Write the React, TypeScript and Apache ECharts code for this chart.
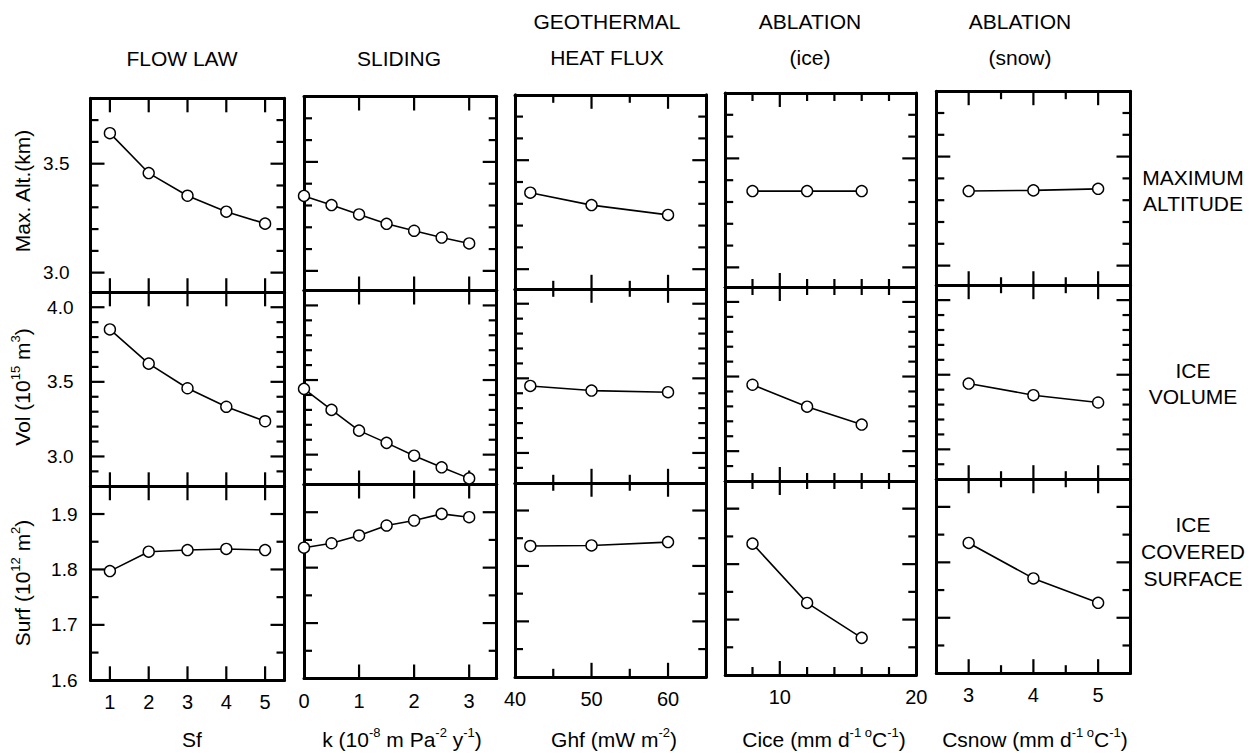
import React, { useEffect, useRef } from "react";
import * as echarts from "echarts";

const FONT = "'Liberation Sans', Arial, Helvetica, sans-serif";

// ---- x values (one list per column) ----
const sfValues = [1, 2, 3, 4, 5];
const kValues = [0, 0.5, 1, 1.5, 2, 2.5, 3];
const ghfValues = [42, 50, 60];
const ciceValues = [8, 12, 16];
const csnowValues = [3, 4, 5];

// ---- Maximum altitude (km) ----
const altSf = [3.64, 3.457, 3.353, 3.28, 3.225];
const altK = [3.344, 3.302, 3.259, 3.216, 3.184, 3.153, 3.126];
const altGhf = [3.351, 3.294, 3.249];
const altCice = [3.35, 3.35, 3.35];
const altCsnow = [3.342, 3.345, 3.352];

// ---- Ice volume (10^15 m^3) ----
const volSf = [3.851, 3.622, 3.457, 3.333, 3.236];
const volK = [3.441, 3.3, 3.161, 3.079, 2.993, 2.915, 2.841];
const volGhf = [3.449, 3.418, 3.407];
const volCice = [3.445, 3.298, 3.178];
const volCsnow = [3.441, 3.363, 3.314];

// ---- Ice covered surface (10^12 m^2) ----
const surfSf = [1.797, 1.832, 1.835, 1.837, 1.835];
const surfK = [1.836, 1.844, 1.858, 1.876, 1.885, 1.897, 1.891];
const surfGhf = [1.836, 1.837, 1.843];
const surfCice = [1.837, 1.73, 1.667];
const surfCsnow = [1.835, 1.771, 1.727];

// ---- axes: ranges, ticks, tick labels ----
const xRanges = [[0.5, 5.5], [0, 3.5], [40, 65], [6, 20], [2.5, 5.5]];
const xMajorTicks = [[1, 2, 3, 4, 5], [1, 2, 3], [50, 60], [10], [3, 4, 5]];
const xMinorTicks = [[], [], [45, 55], [8, 12, 14, 16, 18], [3.5, 4.5]];
const xTickLabels = [[1, 2, 3, 4, 5], [0, 1, 2, 3], [40, 50, 60], [10, 20], [3, 4, 5]];

const yRanges = [[2.91, 3.8], [2.8, 4.1], [1.6, 1.95]];
const yMajorTicks = [[3.0, 3.5], [3.0, 3.5, 4.0], [1.7, 1.8, 1.9]];
const yMinorTicks = [
  [3.1, 3.2, 3.3, 3.4, 3.6, 3.7],
  [2.9, 3.1, 3.2, 3.3, 3.4, 3.6, 3.7, 3.8, 3.9],
  [1.65, 1.75, 1.85],
];
const yTickLabels = [[3.0, 3.5], [3.0, 3.5, 4.0], [1.6, 1.7, 1.8, 1.9]];

const xValues = [sfValues, kValues, ghfValues, ciceValues, csnowValues];
const yValues = [
  [altSf, altK, altGhf, altCice, altCsnow],
  [volSf, volK, volGhf, volCice, volCsnow],
  [surfSf, surfK, surfGhf, surfCice, surfCsnow],
];

const columnTitles = [["FLOW LAW"], ["SLIDING"], ["GEOTHERMAL", "HEAT FLUX"], ["ABLATION", "(ice)"], ["ABLATION", "(snow)"]];
const rowTitles = [["MAXIMUM", "ALTITUDE"], ["ICE", "VOLUME"], ["ICE", "COVERED", "SURFACE"]];
const yNames = ["{n|Max. Alt.(km)}", "{n|Vol (10}{s|15}{n| m}{s|3}{n|)}", "{n|Surf (10}{s|12}{n| m}{s|2}{n|)}"];
const xNames = [
  "{n|Sf}",
  "{n|k (10}{s|-8}{n| m Pa}{s|-2}{n| y}{s|-1}{n|)}",
  "{n|Ghf (mW m}{s|-2}{n|)}",
  "{n|Cice (mm d}{s|-1 o}{n|C}{s|-1}{n|)}",
  "{n|Csnow (mm d}{s|-1 o}{n|C}{s|-1}{n|)}",
];

// ---- layout ----
const colLeft = [90.5, 304, 515, 725.2, 936.3];
const colRight = [284.5, 496.7, 706.3, 916.3, 1130.5];
const colTop = [98.3, 96.5, 94.8, 93, 91.2];
const rowH = 194;
const yLabelMargin = [21, 17, 13];
const columnTitleX = [182, 399, 607, 810, 1020];
const xNameX = [192, 402, 614, 824, 1035];
const yNameY = [191, 387, 583];
const rowTitleY = [[177, 203], [370, 396], [524, 551, 578]];
const MAJOR_LEN = 14;
const MINOR_LEN = 8;

function richStyles(size: number) {
  const ss = Math.round(size * 0.64);
  return {
    n: { fontSize: size, fontFamily: FONT, fill: "#000", lineHeight: size + 5 },
    s: { fontSize: ss, fontFamily: FONT, fill: "#000", verticalAlign: "top", lineHeight: ss },
  };
}

function buildOption() {
  const grids: any[] = [];
  const xAxes: any[] = [];
  const yAxes: any[] = [];
  const series: any[] = [];

  for (let r = 0; r < 3; r++) {
    for (let c = 0; c < 5; c++) {
      const gi = grids.length;
      const gw = colRight[c] - colLeft[c];
      grids.push({
        left: colLeft[c],
        top: colTop[c] + r * rowH,
        width: gw,
        height: rowH,
        containLabel: false,
      });

      const mkX = (pos: string, showLabel: boolean) => ({
        type: "value",
        gridIndex: gi,
        position: pos,
        min: xRanges[c][0],
        max: xRanges[c][1],
        axisLine: { show: true, onZero: false, lineStyle: { color: "#000", width: 3 } },
        axisTick: { show: false },
        axisLabel: showLabel
          ? {
              show: true,
              customValues: xTickLabels[c],
              color: "#000",
              fontSize: 20,
              fontFamily: FONT,
              margin: 12,
              formatter: (v: number) => String(v),
            }
          : { show: false },
        splitLine: { show: false },
      });
      const xMainIdx = xAxes.length;
      xAxes.push(mkX("bottom", r === 2));
      xAxes.push(mkX("top", false));

      const mkY = (pos: string, showLabel: boolean) => ({
        type: "value",
        gridIndex: gi,
        position: pos,
        min: yRanges[r][0],
        max: yRanges[r][1],
        axisLine: { show: true, onZero: false, lineStyle: { color: "#000", width: 3 } },
        axisTick: { show: false },
        axisLabel: showLabel
          ? {
              show: true,
              customValues: yTickLabels[r],
              color: "#000",
              fontSize: 19,
              fontFamily: FONT,
              margin: yLabelMargin[r],
              formatter: (v: number) => v.toFixed(1),
            }
          : { show: false },
        splitLine: { show: false },
      });
      const yMainIdx = yAxes.length;
      yAxes.push(mkY("left", c === 0));
      yAxes.push(mkY("right", false));

      // tick marks drawn inward from all four borders, as short segments in data space
      const xr = xRanges[c];
      const yr = yRanges[r];
      const pxX = (xr[1] - xr[0]) / gw;
      const pxY = (yr[1] - yr[0]) / rowH;
      const segs: number[][][] = [];
      const addX = (v: number, len: number) => {
        segs.push([[v, yr[0]], [v, yr[0] + len * pxY]]);
        segs.push([[v, yr[1]], [v, yr[1] - len * pxY]]);
      };
      const addY = (v: number, len: number) => {
        segs.push([[xr[0], v], [xr[0] + len * pxX, v]]);
        segs.push([[xr[1], v], [xr[1] - len * pxX, v]]);
      };
      xMajorTicks[c].forEach((v) => addX(v, MAJOR_LEN));
      xMinorTicks[c].forEach((v) => addX(v, MINOR_LEN));
      yMajorTicks[r].forEach((v) => addY(v, MAJOR_LEN));
      yMinorTicks[r].forEach((v) => addY(v, MINOR_LEN));
      segs.forEach((seg) => {
        series.push({
          type: "line",
          xAxisIndex: xMainIdx,
          yAxisIndex: yMainIdx,
          data: seg,
          symbol: "none",
          silent: true,
          clip: false,
          lineStyle: { color: "#000", width: 2.2 },
          z: 2,
        });
      });

      series.push({
        type: "line",
        xAxisIndex: xMainIdx,
        yAxisIndex: yMainIdx,
        data: xValues[c].map((x, i) => [x, yValues[r][c][i]]),
        symbol: "circle",
        symbolSize: 11,
        clip: false,
        lineStyle: { color: "#000", width: 1.6 },
        itemStyle: { color: "#fff", borderColor: "#000", borderWidth: 1.4 },
        z: 3,
      });
    }
  }

  const elements: any[] = [];
  columnTitles.forEach((lines, c) => {
    const ys = lines.length === 1 ? [58] : [21, 57];
    lines.forEach((t, i) => {
      elements.push({
        type: "text",
        x: columnTitleX[c],
        y: ys[i],
        style: { text: t, fill: "#000", fontSize: 21, fontFamily: FONT, align: "center", verticalAlign: "middle" },
      });
    });
  });
  rowTitles.forEach((lines, r) => {
    lines.forEach((t, i) => {
      elements.push({
        type: "text",
        x: 1193,
        y: rowTitleY[r][i],
        style: { text: t, fill: "#000", fontSize: 21, fontFamily: FONT, align: "center", verticalAlign: "middle" },
      });
    });
  });
  yNames.forEach((t, r) => {
    elements.push({
      type: "text",
      x: 22,
      y: yNameY[r],
      rotation: Math.PI / 2,
      style: { text: t, rich: richStyles(21), fill: "#000", fontSize: 21, fontFamily: FONT, align: "center", verticalAlign: "middle" },
    });
  });
  xNames.forEach((t, c) => {
    elements.push({
      type: "text",
      x: xNameX[c],
      y: 739,
      style: { text: t, rich: richStyles(21), fill: "#000", fontSize: 21, fontFamily: FONT, align: "center", verticalAlign: "middle" },
    });
  });

  return {
    animation: false,
    backgroundColor: "#fff",
    grid: grids,
    xAxis: xAxes,
    yAxis: yAxes,
    series,
    graphic: { elements },
  };
}

export default function App() {
  const ref = useRef<HTMLDivElement>(null);
  useEffect(() => {
    if (!ref.current) return;
    const chart = echarts.init(ref.current, undefined, { renderer: "svg" });
    chart.setOption(buildOption() as any);
    return () => chart.dispose();
  }, []);
  return (
    <div
      ref={ref}
      style={{ position: "absolute", left: 0, top: 0, width: 1253, height: 754, background: "#fff" }}
    />
  );
}
